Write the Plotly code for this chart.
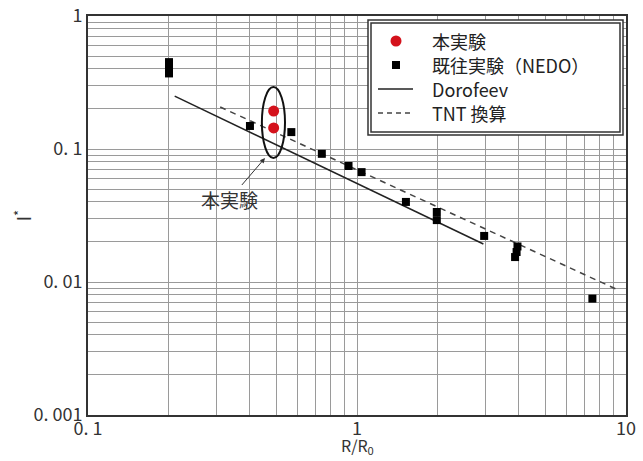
import math
import plotly.graph_objects as go

FONT = "Noto Sans CJK JP"

# ---- data ----
exp_x = [0.49, 0.49]
exp_y = [0.193, 0.144]

nedo_x = [0.2, 0.2, 0.2, 0.4, 0.57, 0.74, 0.93, 1.04, 1.52, 1.98, 1.98, 2.97, 3.95, 3.92, 3.87, 7.5]
nedo_y = [0.45, 0.41, 0.37, 0.149, 0.134, 0.092, 0.0745, 0.067, 0.040, 0.0336, 0.0292, 0.0222, 0.0185, 0.0168, 0.0154, 0.0075]

doro_x = [0.21, 2.95]
doro_y = [0.25, 0.0193]

tnt_x = [0.31, 9.35]
tnt_y = [0.207, 0.0087]

x_tickvals = [0.1, 1, 10]
x_ticktext = ["0. 1", "1", "10"]
y_tickvals = [0.001, 0.01, 0.1, 1]
y_ticktext = ["0. 001", "0. 01", "0. 1", "1"]

ellipse_x = [0.443, 0.540]
ellipse_y = [0.0856, 0.292]
arrow_target = (0.455, 0.0856)

names = ["本実験", "既往実験（NEDO）", "Dorofeev", "TNT 換算"]

minor_x = [m * 10 ** e for e in (-1, 0) for m in range(2, 10)]
minor_y = [m * 10 ** e for e in (-3, -2, -1) for m in range(2, 10)]

GRID = "#9a9a9a"
AX = "#333333"

# plot area in pixels: left 88, right 626, top 16, bottom 415
L, R, T, B = 88, 626, 16, 415
W, H = 643, 461


def px(x):
    return (x - L) / (R - L)


def py(y):
    return (B - y) / (B - T)


fig = go.Figure()
fig.add_trace(go.Scatter(x=doro_x, y=doro_y, mode="lines", name=names[2], showlegend=False,
                         line=dict(color="#222", width=1.5)))
fig.add_trace(go.Scatter(x=tnt_x, y=tnt_y, mode="lines", name=names[3], showlegend=False,
                         line=dict(color="#444", width=1.5, dash="6px,5px")))
fig.add_trace(go.Scatter(x=nedo_x, y=nedo_y, mode="markers", name=names[1], showlegend=False,
                         marker=dict(symbol="square", size=8, color="#000")))
fig.add_trace(go.Scatter(x=exp_x, y=exp_y, mode="markers", name=names[0], showlegend=False,
                         marker=dict(symbol="circle", size=11, color="#d4121c")))

axis_common = dict(
    type="log", showgrid=True, gridcolor=GRID, gridwidth=1,
    showline=True, linecolor=AX, linewidth=2, mirror=True,
    ticks="", tickfont=dict(family=FONT, size=18, color="#333"),
    zeroline=False, automargin=False,
)

fig.update_xaxes(
    range=[-1, 1], tickmode="array", tickvals=x_tickvals, ticktext=x_ticktext,
    minor=dict(tickmode="array", tickvals=minor_x, showgrid=True, gridcolor=GRID, gridwidth=1, ticks=""),
    ticklabelstandoff=-4,
    **axis_common,
)
fig.update_yaxes(
    range=[-3, 0], tickmode="array", tickvals=y_tickvals, ticktext=y_ticktext,
    minor=dict(tickmode="array", tickvals=minor_y, showgrid=True, gridcolor=GRID, gridwidth=1, ticks=""),
    **axis_common,
)

# ---- legend box (double frame) and entries ----
shapes = [
    dict(type="rect", xref="paper", yref="paper", x0=px(368), x1=px(623), y0=py(135), y1=py(20),
         line=dict(color="#333", width=1.5), fillcolor="white", layer="above"),
    dict(type="rect", xref="paper", yref="paper", x0=px(371), x1=px(620), y0=py(132), y1=py(23),
         line=dict(color="#333", width=1.5), fillcolor="white", layer="above"),
    dict(type="circle", xref="x", yref="y", x0=ellipse_x[0], x1=ellipse_x[1],
         y0=ellipse_y[0], y1=ellipse_y[1], line=dict(color="#111", width=2), layer="above"),
]
rows = [41, 65, 89, 113]
sym_x = 396
# red circle
shapes.append(dict(type="circle", xref="paper", yref="paper", xsizemode="pixel", ysizemode="pixel",
                   xanchor=px(sym_x), yanchor=py(rows[0]), x0=-5.5, x1=5.5, y0=-5.5, y1=5.5,
                   fillcolor="#d4121c", line=dict(width=0), layer="above"))
# black square
shapes.append(dict(type="rect", xref="paper", yref="paper", xsizemode="pixel", ysizemode="pixel",
                   xanchor=px(sym_x), yanchor=py(rows[1]), x0=-4, x1=4, y0=-4, y1=4,
                   fillcolor="#000", line=dict(width=0), layer="above"))
# solid line sample
shapes.append(dict(type="line", xref="paper", yref="paper", x0=px(378), x1=px(413),
                   y0=py(rows[2]), y1=py(rows[2]), line=dict(color="#222", width=1.5), layer="above"))
# dashed line sample
shapes.append(dict(type="line", xref="paper", yref="paper", x0=px(378), x1=px(413),
                   y0=py(rows[3]), y1=py(rows[3]), line=dict(color="#444", width=1.5, dash="5px,4px"),
                   layer="above"))

annotations = [
    dict(x=px(430), y=py(r), xref="paper", yref="paper", text=n, showarrow=False,
         xanchor="left", yanchor="middle", font=dict(family=FONT, size=18, color="#222"))
    for n, r in zip(names, rows)
]
annotations.append(
    dict(x=math.log10(arrow_target[0]), y=math.log10(arrow_target[1]), xref="x", yref="y",
         text="本実験", showarrow=True, arrowhead=2, arrowsize=1, arrowwidth=1,
         arrowcolor="#333", ax=-36, ay=42, font=dict(family=FONT, size=19, color="#333"))
)
# y-axis title
annotations.append(
    dict(x=px(22), y=0.5, xref="paper", yref="paper", text="I<sup>*</sup>", showarrow=False,
         textangle=-90, xanchor="center", yanchor="middle",
         font=dict(family=FONT, size=19, color="#333"))
)
# x-axis title
annotations.append(
    dict(x=0.5, y=py(460), xref="paper", yref="paper", text="R/R<sub>0</sub>", showarrow=False,
         xanchor="center", yanchor="bottom", font=dict(family=FONT, size=16, color="#333"))
)

fig.update_layout(
    width=W, height=H,
    margin=dict(l=L, r=W - R, t=T, b=H - B),
    paper_bgcolor="white", plot_bgcolor="white",
    font=dict(family=FONT, color="#222"),
    showlegend=False,
    shapes=shapes,
    annotations=annotations,
)

fig.write_html("out.html")
